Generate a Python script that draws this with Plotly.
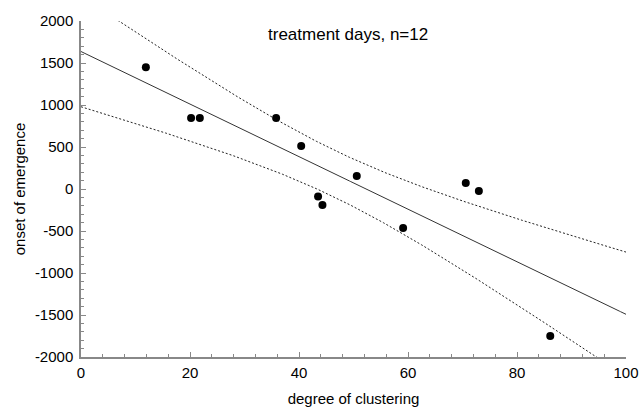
import numpy as np
import plotly.graph_objects as go

# Data
clustering = [11.9, 20.2, 21.8, 35.8, 40.4, 43.5, 44.3, 50.6, 59.1, 70.6, 73.0, 86.1]
onset = [1450, 845, 845, 845, 512, -90, -190, 155, -464, 71, -24, -1750]
x_ticks = [0, 20, 40, 60, 80, 100]
y_ticks = [-2000, -1500, -1000, -500, 0, 500, 1000, 1500, 2000]
y_tick_labels = ["-2000", "-1500", "-1000", "-500", "0", "500", "1000", "1500", "2000"]
title_text = "treatment days, n=12"
T_975_DF10 = 2.228

# Linear regression with 95% confidence band for the mean
x = np.array(clustering, dtype=float)
y = np.array(onset, dtype=float)
n = len(x)
slope, intercept = np.polyfit(x, y, 1)
resid = y - (intercept + slope * x)
s = np.sqrt(np.sum(resid ** 2) / (n - 2))
sxx = np.sum((x - x.mean()) ** 2)
xg = np.linspace(0, 100, 401)
fit = intercept + slope * xg
half = T_975_DF10 * s * np.sqrt(1.0 / n + (xg - x.mean()) ** 2 / sxx)

fig = go.Figure()
fig.add_trace(go.Scatter(x=xg, y=fit + half, mode="lines",
                         line=dict(color="#222", width=1, dash="2px,2px"), hoverinfo="skip"))
fig.add_trace(go.Scatter(x=xg, y=fit - half, mode="lines",
                         line=dict(color="#222", width=1, dash="2px,2px"), hoverinfo="skip"))
fig.add_trace(go.Scatter(x=xg, y=fit, mode="lines",
                         line=dict(color="#333", width=1), hoverinfo="skip"))
fig.add_trace(go.Scatter(x=clustering, y=onset, mode="markers",
                         marker=dict(color="black", size=8)))

fam = "Liberation Sans, Arial, sans-serif"
fig.update_layout(
    width=639, height=408,
    margin=dict(l=81, r=13, t=21, b=51),
    paper_bgcolor="white", plot_bgcolor="white",
    showlegend=False,
    font=dict(family=fam, size=15, color="black"),
    annotations=[dict(text=title_text, x=(348 - 81) / 545, y=1 - (35 - 21) / 336,
                      xref="paper", yref="paper",
                      xanchor="center", yanchor="middle", showarrow=False,
                      font=dict(family=fam, size=17))],
)
fig.update_xaxes(
    range=[0, 100], tickvals=x_ticks, showgrid=False, zeroline=False, automargin=False,
    showline=True, linecolor="#888", linewidth=1.5,
    ticks="inside", ticklen=5, tickcolor="#888", ticklabelstandoff=1,
    minor=dict(dtick=4, ticks="inside", ticklen=3, tickcolor="#888", showgrid=False),
    title=dict(text="degree of clustering", standoff=14, font=dict(size=15)),
    tickfont=dict(size=15),
)
fig.update_yaxes(
    range=[-2000, 2000], tickvals=y_ticks, ticktext=y_tick_labels,
    showgrid=False, zeroline=False, automargin=False,
    showline=True, linecolor="#888", linewidth=1.5,
    ticks="inside", ticklen=5, tickcolor="#888", ticklabelstandoff=3,
    minor=dict(dtick=100, ticks="inside", ticklen=3, tickcolor="#888", showgrid=False),
    title=dict(text="onset of emergence", standoff=6, font=dict(size=15)),
    tickfont=dict(size=15),
)

fig.write_html("out.html")
